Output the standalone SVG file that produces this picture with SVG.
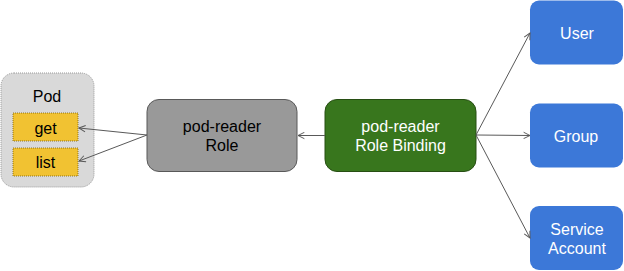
<svg xmlns="http://www.w3.org/2000/svg" width="624" height="271" viewBox="0 0 624 271">
<defs>
<marker id="arr" viewBox="0 0 10 10" refX="9" refY="5" markerWidth="8" markerHeight="8" markerUnits="userSpaceOnUse" orient="auto">
<path d="M1,1 L9,5 L1,9" fill="none" stroke="#595959" stroke-width="1.2"/>
</marker>
</defs>
<style>
text{font-family:"Liberation Sans",Arial,sans-serif;font-size:16px;text-anchor:middle;dominant-baseline:central}
.w{fill:#ffffff}
.k{fill:#000000}
.c{stroke:#595959;stroke-width:1;fill:none;marker-end:url(#arr)}
</style>
<g id="pod">
<rect x="1" y="73" width="93" height="114" rx="13" fill="#d9d9d9" stroke="#999999" stroke-dasharray="1,1"/>
<text x="47" y="96" class="k">Pod</text>
</g>
<g id="get">
<rect x="13" y="113" width="65" height="28" fill="#f1c232" stroke="#7f6000" stroke-dasharray="1,1" stroke-width="0.8"/>
<text x="45.5" y="128" class="k">get</text>
</g>
<g id="list">
<rect x="13" y="148" width="65" height="28" fill="#f1c232" stroke="#7f6000" stroke-dasharray="1,1" stroke-width="0.8"/>
<text x="45.5" y="162" class="k">list</text>
</g>
<g id="role">
<rect x="147" y="99.5" width="150" height="72" rx="12" fill="#999999" stroke="#595959"/>
<text x="222" y="126.5" class="k">pod-reader</text>
<text x="222" y="145" class="k">Role</text>
</g>
<g id="binding">
<rect x="325" y="99.5" width="151" height="72" rx="12" fill="#38761d" stroke="#274e13"/>
<text x="400.5" y="126.5" class="w">pod-reader</text>
<text x="400.5" y="145" class="w">Role Binding</text>
</g>
<g id="user">
<rect x="530" y="0.5" width="93" height="64" rx="9" fill="#3c78d8"/>
<text x="577" y="33" class="w">User</text>
</g>
<g id="group">
<rect x="530" y="103.5" width="93" height="64" rx="9" fill="#3c78d8"/>
<text x="576" y="136" class="w">Group</text>
</g>
<g id="sa">
<rect x="530" y="206" width="93" height="64" rx="9" fill="#3c78d8"/>
<text x="577" y="229" class="w">Service</text>
<text x="577" y="248" class="w">Account</text>
</g>
<g id="connectors">
<line x1="325" y1="135.5" x2="298" y2="135.5" class="c"/>
<line x1="147" y1="135" x2="79" y2="128" class="c"/>
<line x1="147" y1="135" x2="79" y2="161" class="c"/>
<line x1="476" y1="135" x2="530" y2="33" class="c"/>
<line x1="476" y1="135" x2="530" y2="135.5" class="c"/>
<line x1="476" y1="135" x2="530" y2="238" class="c"/>
</g>
</svg>
